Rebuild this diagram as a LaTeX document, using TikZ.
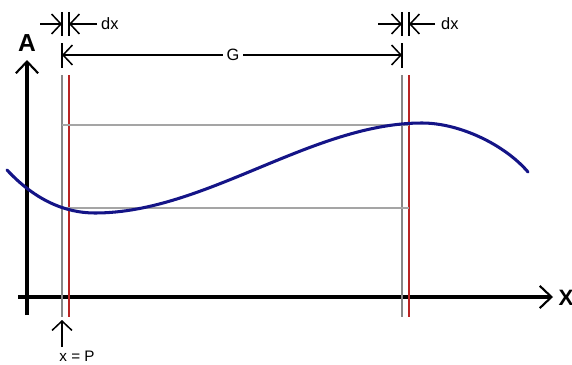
\documentclass[tikz,border=0pt]{standalone}
\usepackage{fontspec}
\setmainfont{Liberation Sans}
\usepackage{xcolor}
\usetikzlibrary{arrows.meta, positioning, calc}
\definecolor{curveblue}{RGB}{20,20,135}
\definecolor{linered}{RGB}{185,35,35}
\definecolor{linegray}{RGB}{135,135,135}
\definecolor{hgray}{RGB}{165,165,165}
\tikzstyle{axis} = [line width=2.6pt, -{Straight Barb[length=10pt, width=19pt, line width=1.8pt]}]
\tikzstyle{dimarrow} = [line width=1.3pt, -{Straight Barb[length=8pt, width=17pt]}]
\tikzstyle{tick} = [line width=1.5pt]
\tikzstyle{grayline} = [line width=2.2pt, draw=linegray]
\tikzstyle{redline} = [line width=2.2pt, draw=linered]
\tikzstyle{hline} = [line width=1.1pt, draw=hgray]
\tikzstyle{biglabel} = [inner sep=0pt, font=\fontsize{21}{23}\selectfont\bfseries]
\tikzstyle{smalllabel} = [inner sep=0pt, font=\fontsize{14}{16}\selectfont]

\begin{document}
\begin{tikzpicture}[x=0.03cm, y=-0.03cm]
    \useasboundingbox (0,0) rectangle (572,364);

    % Ejes
    \coordinate (ybot) at (27,315);
    \coordinate (ytop) at (27,60);
    \coordinate (xleft) at (18,297);
    \coordinate (xright) at (553,297);
    \draw [axis] (ybot) -- (ytop);
    \draw [axis] (xleft) -- (xright);
    \node (alab) [biglabel] at (27,43) {A};
    \node (xlab) [biglabel, font=\fontsize{19}{21}\selectfont\bfseries] at (566,298) {X};

    % Lineas verticales en P, P+dx, P+G, P+G+dx
    \foreach \n/\x/\s in {p/62/grayline, pd/69/redline, q/402/grayline, qd/409/redline} {
        \coordinate (\n-top) at (\x,75);
        \coordinate (\n-bot) at (\x,317);
        \draw [\s] (\n-top) -- (\n-bot);
    }

    % Lineas horizontales
    \draw [hline] (p-top |- 0,125) -- (qd-top |- 0,125);
    \draw [hline] (p-top |- 0,208) -- (qd-top |- 0,208);

    % Curva
    \coordinate (cstart) at (7,170);
    \coordinate (cmin) at (95,213);
    \coordinate (cmax) at (422,123);
    \coordinate (cend) at (528,172);
    \draw [curveblue, line width=2.6pt, line cap=round]
        (cstart) .. controls (35,200) and (65,213) .. (cmin)
                 .. controls (205,213) and (312,123) .. (cmax)
                 .. controls (460,123) and (505,145) .. (cend);

    % Cotas dx
    \foreach \n/\x in {pa/62, pb/69, qa/402, qb/409} {
        \coordinate (\n-hi) at (\x,12);
        \coordinate (\n-lo) at (\x,36);
        \draw [tick] (\n-hi) -- (\n-lo);
    }
    \coordinate (pl) at (40,24);
    \coordinate (pr) at (97,24);
    \coordinate (ql) at (378,24);
    \coordinate (qr) at (435,24);
    \draw [dimarrow] (pl) -- (pa-hi |- pl);
    \draw [dimarrow] (pr) -- (pb-hi |- pr);
    \draw [dimarrow] (ql) -- (qa-hi |- ql);
    \draw [dimarrow] (qr) -- (qb-hi |- qr);
    \node (dxp) [smalllabel, anchor=west] at (101,24) {dx};
    \node (dxq) [smalllabel, anchor=west] at (441,24) {dx};

    % Cota G
    \coordinate (gl-top) at (62,43);
    \coordinate (gl-bot) at (62,68);
    \coordinate (gr-top) at (402,43);
    \coordinate (gr-bot) at (402,68);
    \draw [tick] (gl-top) -- (gl-bot);
    \draw [tick] (gr-top) -- (gr-bot);
    \node (glab) [smalllabel, inner xsep=3pt] at (233,55) {G};
    \draw [dimarrow] (glab.west) -- (gl-top |- glab.west);
    \draw [dimarrow] (glab.east) -- (gr-top |- glab.east);

    % Posicion P
    \coordinate (ptail) at (62,347);
    \coordinate (phead) at (62,320);
    \node (plab) [smalllabel, font=\fontsize{13}{15}\selectfont] at (77,356) {x = P};
    \draw [dimarrow] (ptail) -- (phead);
\end{tikzpicture}
\end{document}
